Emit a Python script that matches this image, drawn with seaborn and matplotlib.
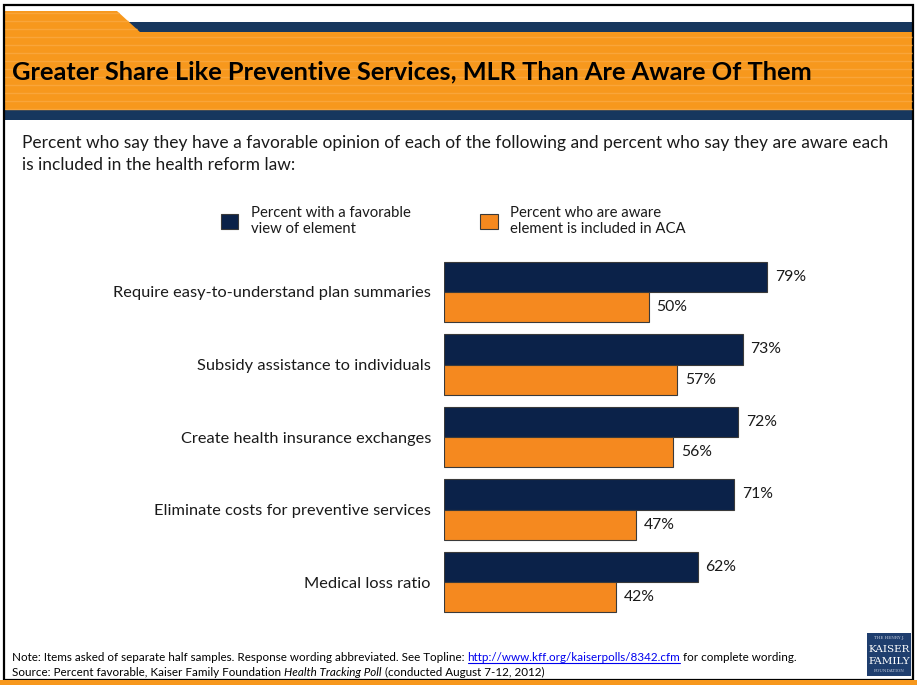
import matplotlib
matplotlib.use("Agg")
from matplotlib import pyplot as plt
from matplotlib.patches import Rectangle, Polygon
import seaborn as sns
import pandas as pd

items = ["Require easy-to-understand plan summaries",
         "Subsidy assistance to individuals",
         "Create health insurance exchanges",
         "Eliminate costs for preventive services",
         "Medical loss ratio"]
favorable = [79, 73, 72, 71, 62]
aware = [50, 57, 56, 47, 42]
series = ["Percent with a favorable\nview of element",
          "Percent who are aware\nelement is included in ACA"]

NAVY = "#0B2249"
ORANGE = "#F5891F"
HEAD_BLUE = "#17375E"
HEAD_ORANGE = "#F7981D"
STRIPE = "#F9A53A"

data = pd.DataFrame({
    "item": items * 2,
    "value": favorable + aware,
    "series": [series[0]] * len(items) + [series[1]] * len(items),
})

sns.set_style("white")
plt.rcParams["font.family"] = ["Lato", "DejaVu Sans"]

W, H = 917, 685
fig = plt.figure(figsize=(W / 100, H / 100), dpi=100)

# background / decoration layer in pixel coordinates
bg = fig.add_axes([0, 0, 1, 1], zorder=0)
bg.set_xlim(0, W)
bg.set_ylim(H, 0)
bg.axis("off")

bg.add_patch(Rectangle((117, 22), 795, 10, color=HEAD_BLUE, lw=0))
bg.add_patch(Rectangle((5, 32), 907, 78, color=HEAD_ORANGE, lw=0))
bg.add_patch(Polygon([(5, 11), (117, 11), (141, 33), (5, 33)], closed=True, color=HEAD_ORANGE, lw=0))
for yy in range(13, 110, 8):
    x_end = 912 if yy >= 32 else 117 + (yy - 11) * 24 / 22
    bg.plot([5, x_end], [yy, yy], color=STRIPE, lw=1.0, solid_capstyle="butt")
bg.add_patch(Rectangle((5, 110), 907, 10, color=HEAD_BLUE, lw=0))
bg.add_patch(Rectangle((4, 5), 909, 675, fill=False, ec="black", lw=1.6))
bg.add_patch(Rectangle((0, 680), W, 5, color=HEAD_ORANGE, lw=0))

renderer = fig.canvas.get_renderer()


def fit(txt, width):
    w = txt.get_window_extent(renderer).width
    txt.set_fontsize(txt.get_fontsize() * width / w)


title = bg.text(12, 72, "Greater Share Like Preventive Services, MLR Than Are Aware Of Them",
                fontsize=17, fontweight="bold", color="black", va="center", ha="left")
fit(title, 803)

sub1 = bg.text(22, 143, "Percent who say they have a favorable opinion of each of the following and percent who say they are aware each",
               fontsize=12, color="#1a1a1a", va="center", ha="left")
fit(sub1, 865)
bg.text(22, 165, "is included in the health reform law:", fontsize=sub1.get_fontsize(),
        color="#1a1a1a", va="center", ha="left")

# footer with mixed styles
foot_fs = 8


def run(x, y, s, color="black", **kw):
    t = bg.text(x, y, s, fontsize=foot_fs, va="baseline", ha="left", color=color, **kw)
    return t, t.get_window_extent(renderer).x1


note0 = bg.text(12, 661, "Note: Items asked of separate half samples. Response wording abbreviated. See Topline: "
                "http://www.kff.org/kaiserpolls/8342.cfm for complete wording.", fontsize=foot_fs, va="baseline")
fit(note0, 785)
foot_fs = note0.get_fontsize()
note0.remove()

t, x = run(12, 661, "Note: Items asked of separate half samples. Response wording abbreviated. See Topline: ")
x0 = x
t, x = run(x, 661, "http://www.kff.org/kaiserpolls/8342.cfm", color="#0000EE")
bg.plot([x0, x], [662.5, 662.5], color="#0000EE", lw=0.8)
run(x, 661, " for complete wording.")

t, x = run(12, 676, "Source: Percent favorable, Kaiser Family Foundation ")
t, x = run(x, 676, "Health Tracking Poll", style="italic")
run(x, 676, " (conducted August 7-12, 2012)")

# logo
bg.add_patch(Rectangle((867, 633), 44, 43, color="#1F3E6E", lw=0))
bg.text(889, 638, "THE HENRY J.", fontsize=3, color="#c8d0e0", ha="center", va="center", family="DejaVu Serif")
bg.text(889, 649, "KAISER", fontsize=7.5, color="white", ha="center", va="center", family="DejaVu Serif")
bg.text(889, 661, "FAMILY", fontsize=7.5, color="white", ha="center", va="center", family="DejaVu Serif")
bg.text(889, 671, "FOUNDATION", fontsize=3, color="#c8d0e0", ha="center", va="center", family="DejaVu Serif")

# chart
ax = fig.add_axes([444 / W, (H - 618.25) / H, 409 / W, 362.5 / H], zorder=1)
ax.patch.set_alpha(0)
sns.barplot(data=data, x="value", y="item", hue="series", orient="h", width=0.84,
            palette=[NAVY, ORANGE], edgecolor="#3a3a3a", linewidth=0.8, ax=ax, saturation=1)
ax.set_xlim(0, 100)
ax.set_ylim(4.5, -0.5)
for c in ax.containers:
    ax.bar_label(c, fmt="{:.0f}%", padding=5.5, fontsize=11.3, color="#1a1a1a")
ax.set_xlabel("")
ax.set_ylabel("")
ax.set_xticks([])
ax.tick_params(axis="y", length=0, pad=9.4, labelsize=11.75, labelcolor="#1a1a1a")
sns.despine(ax=ax, left=True, bottom=True)

handles, labels = ax.get_legend_handles_labels()
ax.get_legend().remove()
fig.legend(handles, labels, ncol=2, frameon=False, loc="center left",
           bbox_to_anchor=(221 / W, 1 - 221 / H), borderpad=0, borderaxespad=0,
           fontsize=10.7, handlelength=1.15, handleheight=1.15, handletextpad=0.85,
           columnspacing=4.7, labelcolor="#1a1a1a")

fig.savefig("out.png", dpi=100)
